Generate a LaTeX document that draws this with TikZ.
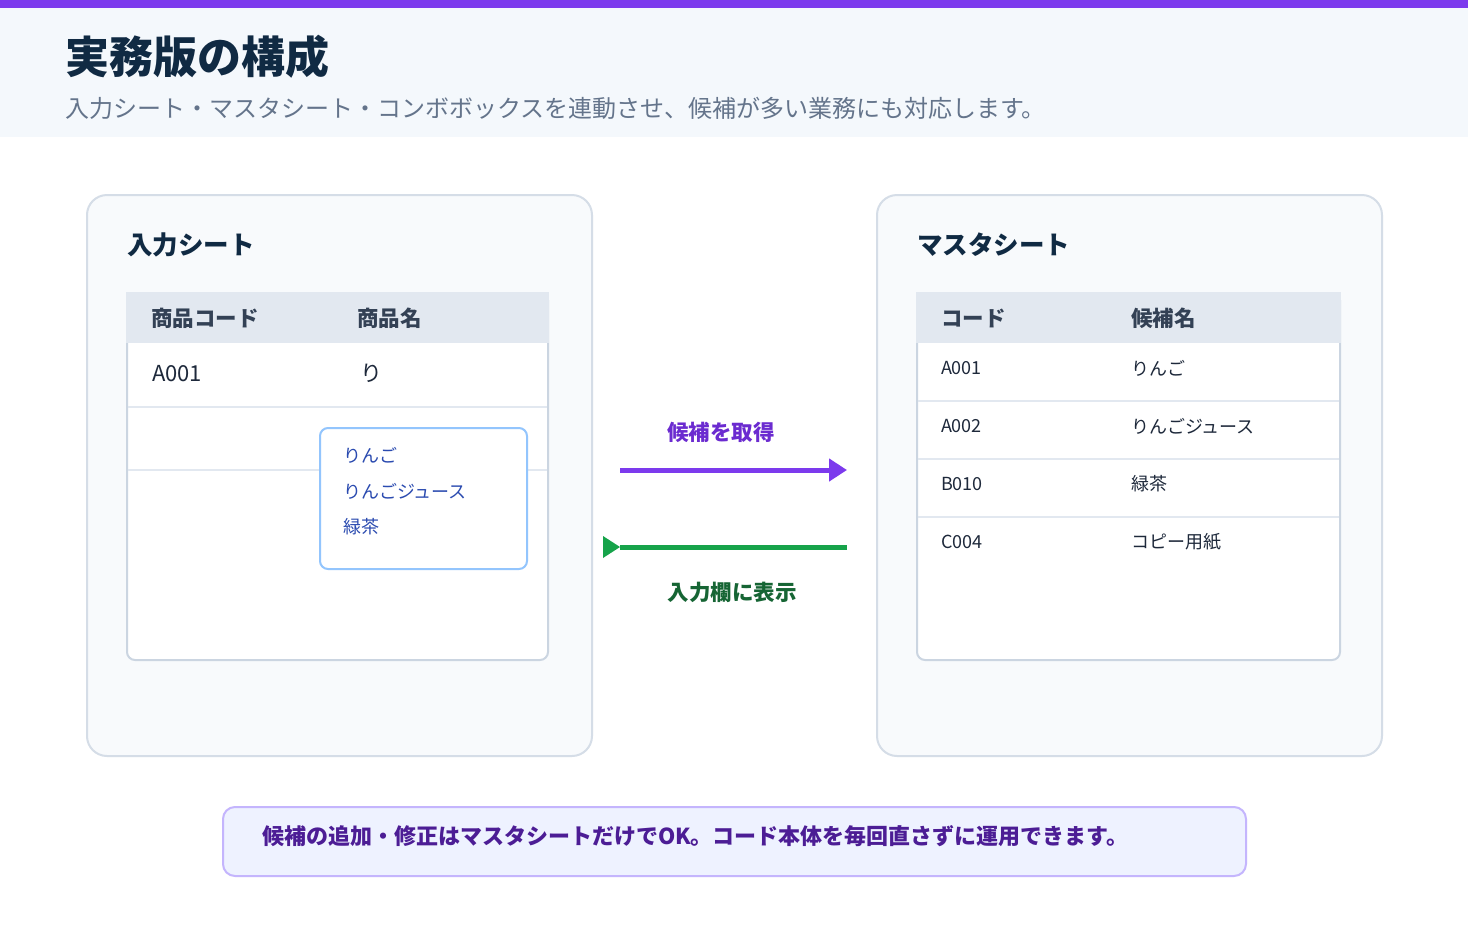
\documentclass[tikz,border=0pt]{standalone}
\usepackage{fontspec}
\setmainfont{Noto Sans CJK JP}
\newfontfamily\cjk{Noto Sans CJK JP}
\usetikzlibrary{arrows.meta}
\definecolor{topbar}{HTML}{7C3AED}
\definecolor{headbg}{HTML}{F4F8FC}
\definecolor{titlec}{HTML}{102A43}
\definecolor{subc}{HTML}{64748B}
\definecolor{panelfill}{HTML}{F8FAFC}
\definecolor{panelline}{HTML}{D5DDE7}
\definecolor{thead}{HTML}{E2E8F0}
\definecolor{theadtext}{HTML}{334155}
\definecolor{tline}{HTML}{CBD5E1}
\definecolor{rowline}{HTML}{E2E8F0}
\definecolor{bodytext}{HTML}{1E293B}
\definecolor{ddline}{HTML}{93C5FD}
\definecolor{ddtext}{HTML}{2B4BB0}
\definecolor{parrow}{HTML}{7C3AED}
\definecolor{plabel}{HTML}{6B2BD0}
\definecolor{garrow}{HTML}{16A34A}
\definecolor{glabel}{HTML}{166534}
\definecolor{notefill}{HTML}{EEF2FF}
\definecolor{noteline}{HTML}{C4B5FD}
\definecolor{notetext}{HTML}{4C1D95}
\newcommand{\px}[1]{\fontsize{\fpeval{#1*0.75}pt}{\fpeval{#1*0.9}pt}\selectfont}
\tikzset{
  txt/.style={inner sep=0pt, outer sep=0pt, anchor=west},
  paneltitle/.style={txt, font=\bfseries\px{25.5}, text=titlec},
  thtext/.style={txt, font=\bfseries\px{21.5}, text=theadtext},
  panelbox/.style={draw=panelline, line width=1.5pt, fill=panelfill, rounded corners=15pt},
  ddbox/.style={draw=ddline, line width=1.5pt, fill=white, rounded corners=6pt},
  dditem/.style={txt, font=\px{18}, text=ddtext},
  mtext/.style={txt, font=\px{18}, text=bodytext},
}
\begin{document}
\begin{tikzpicture}[x=0.75pt,y=-0.75pt]
\useasboundingbox (0,0) rectangle (1468,940);
\fill[white] (0,0) rectangle (1468,940);
% header
\fill[headbg] (0,8) rectangle (1468,137);
\fill[topbar] (0,0) rectangle (1468,8);
\node[txt, font=\bfseries\px{44}, text=titlec] (title) at (65,57) {実務版の構成};
\node[txt, font=\px{24}, text=subc] (subtitle) at (65,108) {入力シート・マスタシート・コンボボックスを連動させ、候補が多い業務にも対応します。};

% left panel
\path[panelbox] (87,195) rectangle (592,756);
\node[paneltitle] (ltitle) at (127,245) {入力シート};
\path[fill=white, draw=tline, line width=1.5pt, rounded corners=6pt] (127,300) -- (127,660) -- (548,660) -- (548,300);
\fill[thead] (126,292) rectangle (549,343);
\draw[rowline, line width=1pt] (128,407) -- (547,407);
\draw[rowline, line width=1pt] (128,470) -- (547,470);
\node[thtext] (lh1) at (151,318) {商品コード};
\node[thtext] (lh2) at (357,318) {商品名};
\node[txt, font=\px{22}, text=bodytext] (lc1) at (152,374) {A001};
\node[txt, font=\px{22}, text=bodytext] (lc2) at (360,373) {り};
% dropdown
\node[ddbox, minimum width=207pt*0.75, minimum height=141pt*0.75, anchor=north west, inner sep=0pt] (dd) at (319,427) {};
\node[dditem] (d1) at (343,455) {りんご};
\node[dditem] (d2) at (343,491) {りんごジュース};
\node[dditem] (d3) at (343,527) {緑茶};

% right panel
\path[panelbox] (877,195) rectangle (1382,756);
\node[paneltitle] (rtitle) at (917,245) {マスタシート};
\path[fill=white, draw=tline, line width=1.5pt, rounded corners=6pt] (917,300) -- (917,660) -- (1340,660) -- (1340,300);
\fill[thead] (916,292) rectangle (1341,343);
\foreach \yy in {401,459,517} \draw[rowline, line width=1pt] (918,\yy) -- (1339,\yy);
\node[thtext] (rh1) at (941,318) {コード};
\node[thtext] (rh2) at (1131,318) {候補名};
\node[mtext] (r1a) at (941,368) {A001};
\node[mtext] (r1b) at (1131,368) {りんご};
\node[mtext] (r2a) at (941,426) {A002};
\node[mtext] (r2b) at (1131,426) {りんごジュース};
\node[mtext] (r3a) at (941,484) {B010};
\node[mtext] (r3b) at (1131,484) {緑茶};
\node[mtext] (r4a) at (941,542) {C004};
\node[mtext] (r4b) at (1131,542) {コピー用紙};

% arrows
\coordinate (pa) at (620,470);
\coordinate (pb) at (847,470);
\draw[parrow, line width=3.75pt, -{Triangle[length=13.5pt,width=16.5pt]}] (pa) -- (pb);
\node[inner sep=0pt, font=\bfseries\px{21.5}, text=plabel] (plab) at (721,432) {候補を取得};
\coordinate (ga) at (847,547);
\coordinate (gb) at (620,547);
\draw[garrow, line width=3.75pt] (ga) -- (gb);
\fill[garrow] (603,536) -- (gb) -- (603,558) -- cycle;
\node[inner sep=0pt, font=\bfseries\px{21.5}, text=glabel] (glab) at (732,592) {入力欄に表示};

% note
\path[draw=noteline, line width=1.5pt, fill=notefill, rounded corners=9pt] (223,807) rectangle (1246,876);
\node[txt, font=\bfseries\px{22}, text=notetext] (note) at (262,836) {候補の追加・修正はマスタシートだけでOK。コード本体を毎回直さずに運用できます。};
\end{tikzpicture}
\end{document}
